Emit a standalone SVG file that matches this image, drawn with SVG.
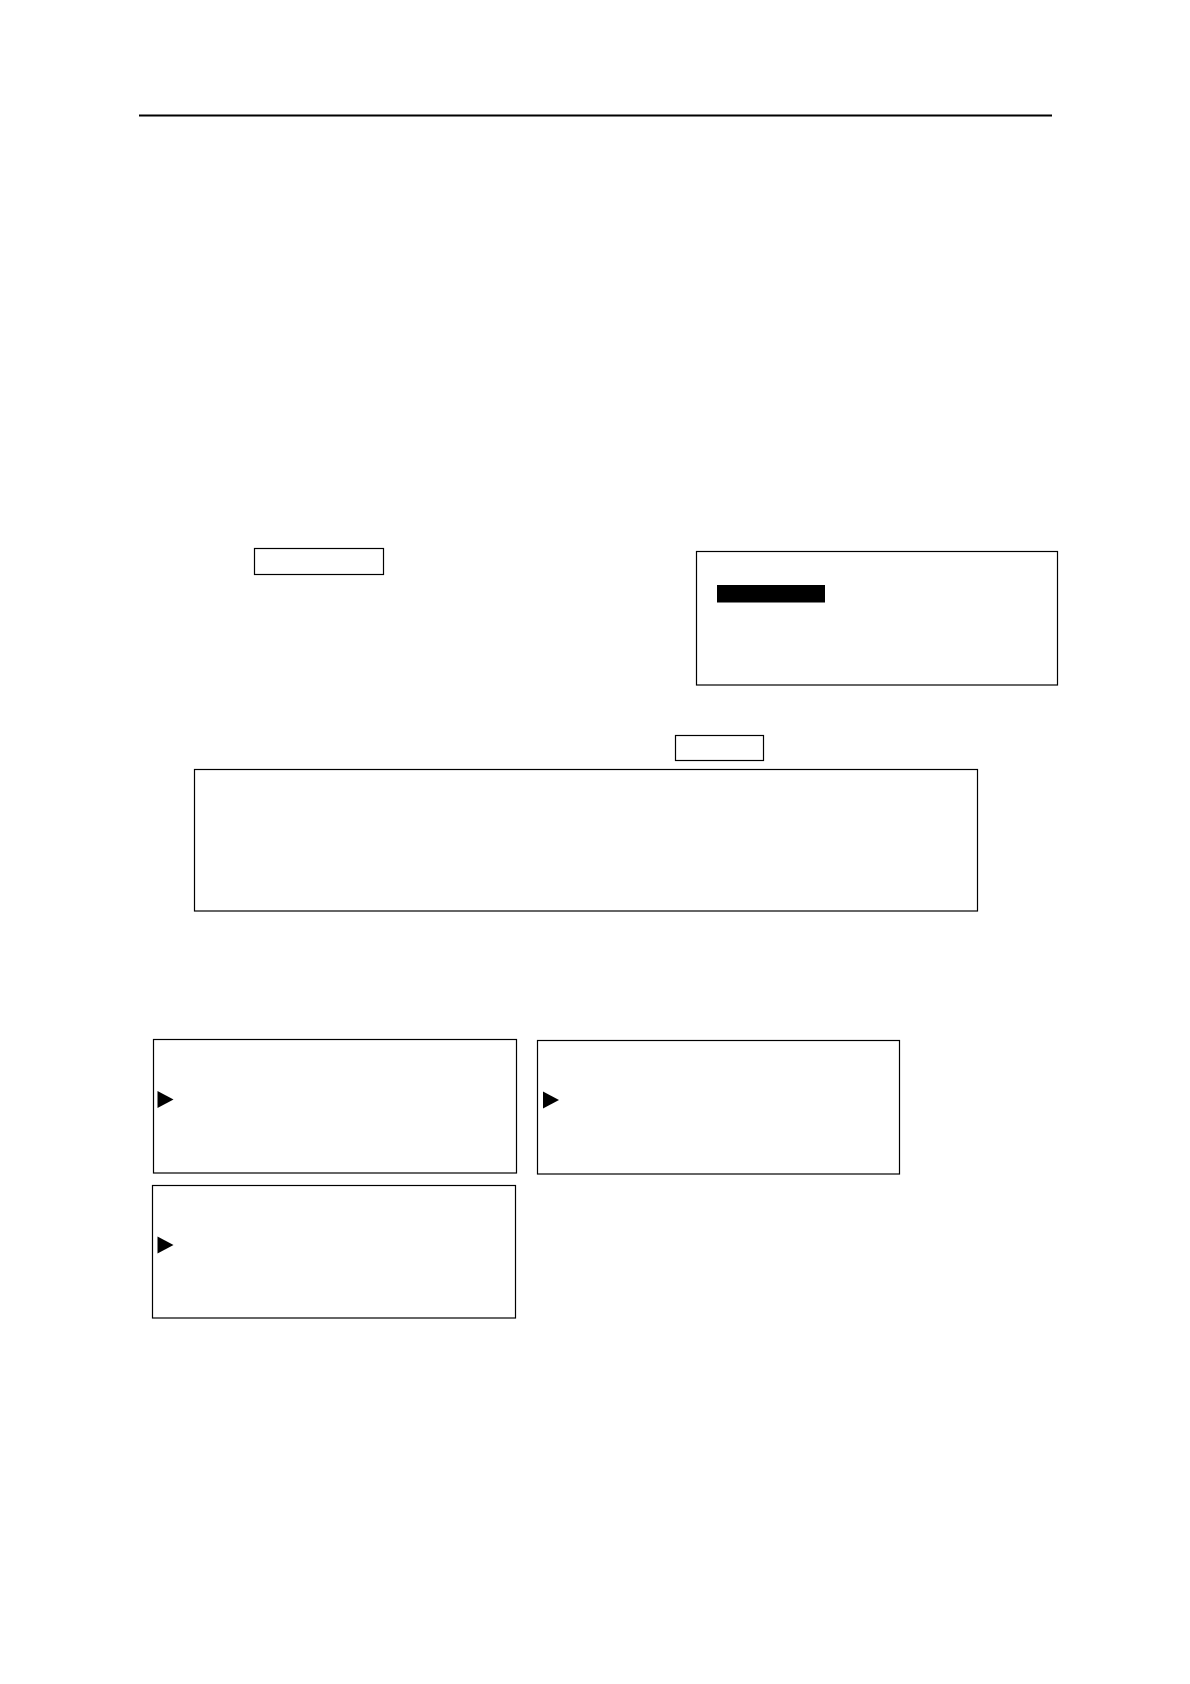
<svg xmlns="http://www.w3.org/2000/svg" width="1190" height="1684" viewBox="0 0 1190 1684">
<style>
.box{fill:#fff;stroke:#000;stroke-width:1.2}
.tri{fill:#000}
</style>
<rect width="1190" height="1684" fill="#fff"/>
<line id="rule" x1="139" y1="115.5" x2="1052" y2="115.5" stroke="#000" stroke-width="2"/>
<g id="node-small1"><rect class="box" x="254.5" y="548.5" width="129" height="26"/></g>
<g id="node-panel"><rect class="box" x="696.5" y="551.5" width="361" height="133.5"/><rect x="717" y="585" width="108" height="17.5" fill="#000"/></g>
<g id="node-small2"><rect class="box" x="675.5" y="735.5" width="88" height="25"/></g>
<g id="node-wide"><rect class="box" x="194.5" y="769.5" width="783" height="141.5"/></g>
<g id="node-screen1"><rect class="box" x="153.5" y="1039.5" width="363" height="133.5"/><polygon class="tri" points="157.5,1091 173.5,1099.5 157.5,1108"/></g>
<g id="node-screen2"><rect class="box" x="537.5" y="1040.5" width="362" height="133.5"/><polygon class="tri" points="543,1091.5 559,1100 543,1108.5"/></g>
<g id="node-screen3"><rect class="box" x="152.5" y="1185.5" width="363" height="132.5"/><polygon class="tri" points="157.5,1236.5 173.5,1245 157.5,1253.5"/></g>
<g id="connectors"></g>
</svg>
